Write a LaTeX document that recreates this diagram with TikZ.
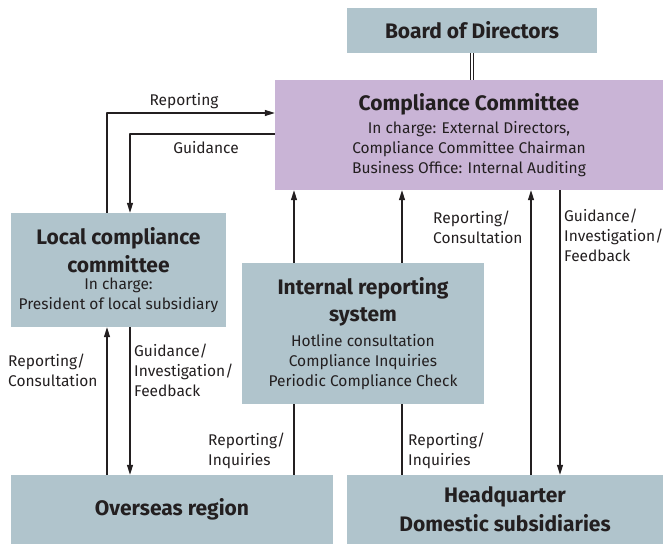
\documentclass[tikz,border=0pt]{standalone}
\usepackage{fontspec}
\setmainfont{Fira Sans}
\usetikzlibrary{arrows.meta}
\definecolor{boxgray}{RGB}{176,196,204}
\definecolor{boxlilac}{RGB}{201,180,214}
\definecolor{ink}{RGB}{35,31,32}
\newcommand{\hd}{\fontsize{21}{24}\selectfont\bfseries}
\tikzset{
  orgbox/.style={fill=boxgray, inner sep=0pt, align=center, text=ink,
    font=\fontsize{15.5}{20}\selectfont},
  note/.style={inner sep=0pt, align=left, text=ink, font=\fontsize{15.5}{20}\selectfont},
  flow/.style={->, line width=1.3pt, draw=ink},
  link/.style={line width=1.3pt, draw=ink},
}
\begin{document}
\begin{tikzpicture}[x=1pt, y=-1pt, line join=round, >={Triangle[length=10pt,width=6pt]}]
\useasboundingbox (0,0) rectangle (666,545);

% boxes
\node[orgbox, minimum width=250pt, minimum height=45pt] (board) at (472,30.5) {\hd Board of Directors};
\node[orgbox, fill=boxlilac, minimum width=388pt, minimum height=110pt] (cc) at (469,135)
  {{\hd Compliance Committee}\\[3pt] In charge: External Directors,\\ Compliance Committee Chairman\\ Business Office: Internal Auditing};
\node[orgbox, minimum width=215pt, minimum height=114pt] (local) at (118.5,270)
  {{\hd Local compliance}\\[5pt] {\hd committee}\\[-3pt] In charge:\\ President of local subsidiary};
\node[orgbox, minimum width=242pt, minimum height=141pt] (irs) at (363,333.5)
  {{\hd Internal reporting}\\[7pt] {\hd system}\\[5pt] Hotline consultation\\ Compliance Inquiries\\ Periodic Compliance Check};
\node[orgbox, minimum width=322pt, minimum height=69pt] (overseas) at (172,509.5) {\hd Overseas region};
\node[orgbox, minimum width=316pt, minimum height=69pt] (hq) at (505,509.5)
  {{\hd Headquarter}\\[6pt] {\hd Domestic subsidiaries}};

% board to committee
\draw[line width=0.7pt, double=white, double distance=2pt, draw=ink] (board.south) -- (board.south |- cc.north);

% local committee
\draw[flow] (local.north -| 107,0) |- (cc.west |- 0,113);
\draw[flow] (cc.west |- 0,134) -| (local.north -| 130,0);
\node[note] (rep) at (184,101) {Reporting};
\node[note] (gui) at (206,148) {Guidance};
\draw[flow] (overseas.north -| 107,0) -- (local.south -| 107,0);
\draw[flow] (local.south -| 130,0) -- (overseas.north -| 130,0);
\node[note, anchor=west] (repl) at (8,370) {Reporting/\\Consultation};
\node[note, anchor=west] (guil) at (134,370) {Guidance/\\Investigation/\\Feedback};

% internal reporting system
\draw[flow] (irs.north -| 294,0) -- (cc.south -| 294,0);
\draw[flow] (irs.north -| 402,0) -- (cc.south -| 402,0);
\draw[link] (overseas.north -| 294,0) -- (irs.south -| 294,0);
\draw[link] (hq.north -| 402,0) -- (irs.south -| 402,0);
\node[note, anchor=west] (inqa) at (208,451) {Reporting/\\Inquiries};
\node[note, anchor=west] (inqb) at (408,451) {Reporting/\\Inquiries};

% headquarter
\draw[flow] (hq.north -| 531,0) -- (cc.south -| 531,0);
\draw[flow] (cc.south -| 560,0) -- (hq.north -| 560,0);
\node[note, anchor=west] (repr) at (433,227) {Reporting/\\Consultation};
\node[note, anchor=west] (guir) at (564,235) {Guidance/\\Investigation/\\Feedback};
\end{tikzpicture}
\end{document}
